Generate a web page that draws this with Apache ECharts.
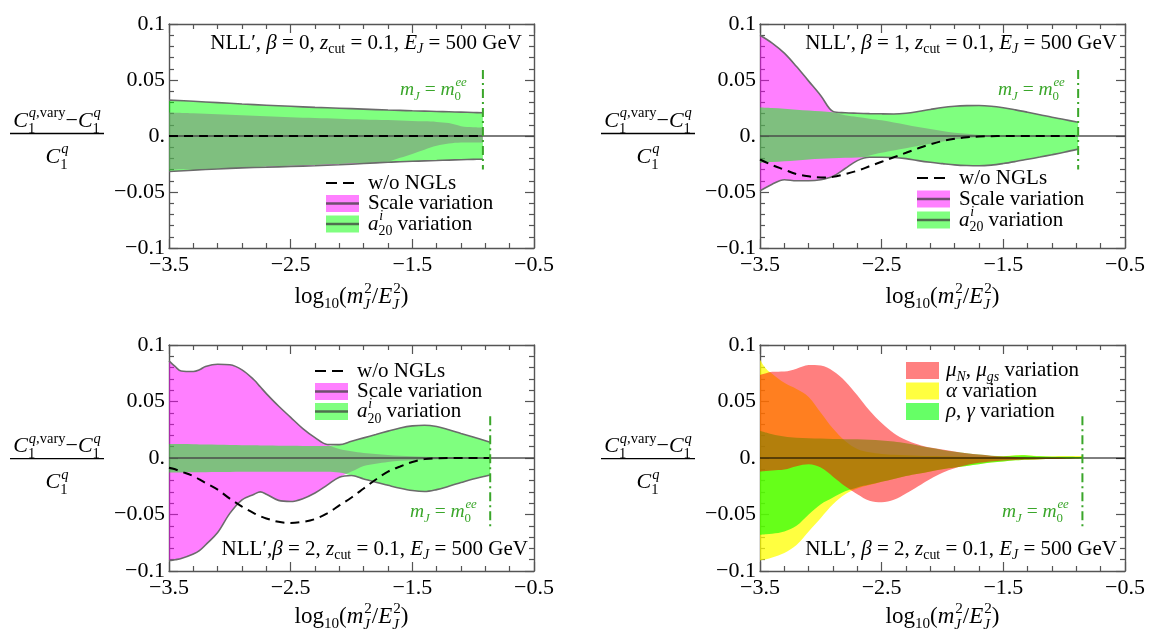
<!DOCTYPE html>
<html><head><meta charset="utf-8">
<script src="https://cdn.jsdelivr.net/npm/echarts@6/dist/echarts.min.js"></script>
<style>html,body{margin:0;padding:0;background:#fff}#c{width:1149px;height:634px}</style>
</head><body><div id="c"></div>
<script>
// ---------------- DATA ----------------
const XMIN = -3.5, XMAX = -0.5;
const XTICK_VALUES = [-3.5, -2.5, -1.5, -0.5];
const XTICK_LABELS = ['−3.5', '−2.5', '−1.5', '−0.5'];
const YTICK_VALUES = [-0.1, -0.05, 0, 0.05, 0.1];
const YTICK_LABELS = ['−0.1', '−0.05', '0.', '0.05', '0.1'];

// panel 1: beta = 0
const X1 = [-3.5,-3.3,-3.1,-2.9,-2.7,-2.5,-2.3,-2.1,-1.9,-1.7,-1.6,-1.5,-1.4,-1.3,-1.2,-1.1,-1.0,-0.92];
const A20_HI_1 = [0.0320,0.0310,0.0298,0.0286,0.0275,0.0265,0.0256,0.0248,0.0240,0.0232,0.0229,0.0225,0.0222,0.0219,0.0216,0.0213,0.0210,0.0207];
const A20_LO_1 = [-0.0317,-0.0305,-0.0294,-0.0284,-0.0275,-0.0266,-0.0258,-0.0250,-0.0242,-0.0234,-0.0230,-0.0226,-0.0222,-0.0219,-0.0215,-0.0212,-0.0209,-0.0207];
const SCALE_HI_1 = [0.0210,0.0203,0.0195,0.0186,0.0177,0.0168,0.0161,0.0155,0.0148,0.0142,0.0138,0.0135,0.0131,0.0126,0.0115,0.0088,0.0079,0.0077];
const SCALE_LO_1 = [-0.0300,-0.0295,-0.0290,-0.0285,-0.0279,-0.0272,-0.0265,-0.0257,-0.0246,-0.0228,-0.0195,-0.0160,-0.0122,-0.0088,-0.0068,-0.0059,-0.0057,-0.0057];
const NONGL_1 = [0,0,0,0,0,0,0,0,0,0,0,0,0,0,0,0,0,0];

// panel 2: beta = 1
const X2 = [-3.5,-3.4,-3.3,-3.2,-3.1,-3.0,-2.9,-2.8,-2.7,-2.6,-2.5,-2.4,-2.3,-2.2,-2.1,-2.0,-1.9,-1.8,-1.7,-1.6,-1.5,-1.4,-1.3,-1.2,-1.1,-1.0,-0.885];
const SCALE_HI_2 = [0.090,0.083,0.074,0.062,0.049,0.036,0.022,0.0185,0.0170,0.0155,0.0140,0.0120,0.0100,0.0080,0.0062,0.0045,0.0030,0.0020,0.0010,0.0005,0,0,0,0,0,0,0];
const SCALE_LO_2 = [-0.049,-0.043,-0.039,-0.040,-0.040,-0.039,-0.036,-0.029,-0.022,-0.0175,-0.015,-0.013,-0.011,-0.009,-0.007,-0.005,-0.003,-0.002,-0.001,-0.0005,0,0,0,0,0,0,0];
const A20_HI_2 = [0.0255,0.0250,0.0243,0.0235,0.0228,0.0220,0.0212,0.0207,0.0203,0.0200,0.0198,0.0197,0.0203,0.0218,0.0237,0.0255,0.0266,0.0271,0.0272,0.0266,0.0252,0.0233,0.0212,0.0190,0.0167,0.0147,0.0122];
const A20_LO_2 = [-0.0240,-0.0233,-0.0226,-0.0218,-0.0210,-0.0203,-0.0198,-0.0195,-0.0192,-0.0190,-0.0190,-0.0192,-0.0202,-0.0220,-0.0235,-0.0247,-0.0258,-0.0264,-0.0266,-0.0260,-0.0246,-0.0228,-0.0208,-0.0188,-0.0167,-0.0145,-0.0117];
const NONGL_2 = [-0.021,-0.026,-0.030,-0.034,-0.036,-0.037,-0.0365,-0.034,-0.031,-0.027,-0.023,-0.019,-0.015,-0.011,-0.0075,-0.0045,-0.0025,-0.0012,-0.0005,-0.0002,0,0,0,0,0,0,0];

// panel 3: beta = 2
const X3 = [-3.5,-3.45,-3.4,-3.3,-3.25,-3.2,-3.1,-3.0,-2.9,-2.8,-2.75,-2.7,-2.6,-2.5,-2.4,-2.3,-2.2,-2.1,-2.0,-1.9,-1.8,-1.7,-1.6,-1.5,-1.4,-1.3,-1.2,-1.1,-1.0,-0.86];
const SCALE_HI_3 = [0.086,0.081,0.077,0.0765,0.078,0.081,0.083,0.0825,0.078,0.069,0.063,0.057,0.046,0.036,0.026,0.018,0.012,0.008,0.006,0.0045,0.0035,0.0027,0.002,0.0015,0.001,0.0008,0.0006,0.0004,0.0002,0];
const SCALE_LO_3 = [-0.091,-0.090,-0.089,-0.085,-0.082,-0.077,-0.066,-0.049,-0.037,-0.032,-0.030,-0.032,-0.0375,-0.0385,-0.036,-0.031,-0.024,-0.017,-0.012,-0.007,-0.005,-0.0035,-0.0025,-0.002,-0.0015,-0.001,-0.0008,-0.0005,-0.0003,0];
const A20_HI_3 = [0.0125,0.0124,0.0123,0.0121,0.0120,0.0119,0.0117,0.0115,0.0113,0.0112,0.0111,0.0110,0.0109,0.0108,0.0107,0.0106,0.0106,0.0118,0.0148,0.0178,0.0208,0.0238,0.0266,0.0284,0.0290,0.0278,0.0250,0.0217,0.0185,0.0140];
const A20_LO_3 = [-0.0130,-0.0129,-0.0128,-0.0127,-0.0126,-0.0125,-0.0124,-0.0123,-0.0122,-0.0121,-0.0121,-0.0121,-0.0121,-0.0121,-0.0121,-0.0121,-0.0121,-0.0128,-0.0155,-0.0185,-0.0215,-0.0242,-0.0268,-0.0288,-0.0297,-0.0280,-0.0250,-0.0217,-0.0185,-0.0150];
const NONGL_3 = [-0.0086,-0.010,-0.012,-0.016,-0.019,-0.022,-0.028,-0.036,-0.043,-0.049,-0.0515,-0.0535,-0.0565,-0.0575,-0.0565,-0.054,-0.049,-0.042,-0.035,-0.027,-0.019,-0.012,-0.0075,-0.0035,-0.001,-0.0002,0,0,0,0];

// panel 4: beta = 2, separate variations
const X4 = [-3.5,-3.45,-3.4,-3.3,-3.2,-3.1,-3.0,-2.9,-2.8,-2.7,-2.6,-2.5,-2.4,-2.3,-2.2,-2.1,-2.0,-1.9,-1.8,-1.7,-1.6,-1.5,-1.4,-1.35,-1.3,-1.2,-1.1,-1.0,-0.85];
const MU_HI = [0.0735,0.075,0.0763,0.0765,0.079,0.0822,0.0818,0.077,0.068,0.0555,0.042,0.031,0.022,0.016,0.012,0.0092,0.0075,0.0058,0.0043,0.003,0.002,0.0013,0.0008,0.0006,0.0005,0.0003,0.0002,0.0001,0];
const MU_LO = [-0.0121,-0.0116,-0.011,-0.0102,-0.0072,-0.0055,-0.0085,-0.0165,-0.025,-0.032,-0.0378,-0.0392,-0.037,-0.0315,-0.025,-0.0185,-0.013,-0.009,-0.0063,-0.0043,-0.003,-0.0022,-0.0017,-0.0015,-0.0013,-0.001,-0.0008,-0.0006,0];
const ALPHA_HI = [0.087,0.079,0.0745,0.0665,0.061,0.054,0.040,0.026,0.015,0.008,0.005,0.0035,0.0028,0.0024,0.002,0.0018,0.0016,0.0014,0.0012,0.001,0.0012,0.0016,0.0024,0.0027,0.0025,0.0018,0.0016,0.0018,0.0018];
const ALPHA_LO = [-0.0905,-0.0895,-0.088,-0.084,-0.077,-0.065,-0.053,-0.041,-0.032,-0.027,-0.024,-0.021,-0.0185,-0.016,-0.014,-0.012,-0.010,-0.0085,-0.007,-0.0055,-0.004,-0.003,-0.002,-0.0017,-0.0015,-0.001,-0.0008,-0.0006,-0.0004];
const RHO_HI = [0.0242,0.0225,0.021,0.019,0.018,0.0175,0.0172,0.0169,0.0167,0.0165,0.0161,0.0155,0.0145,0.013,0.011,0.009,0.0071,0.0055,0.0042,0.003,0.002,0.0016,0.0022,0.0025,0.0023,0.0015,0.0012,0.001,0.0008];
const RHO_LO = [-0.068,-0.0675,-0.067,-0.065,-0.060,-0.050,-0.041,-0.035,-0.0295,-0.026,-0.0235,-0.021,-0.0185,-0.016,-0.014,-0.012,-0.010,-0.0085,-0.007,-0.0055,-0.004,-0.003,-0.002,-0.0017,-0.0015,-0.001,-0.0008,-0.0006,-0.0004];

// m_J = m_0^ee marker per panel
const M0_X = [-0.92, -0.885, -0.86, -0.85];
const M0_YTOP = [0.059, 0.059, 0.037, 0.037];
const M0_YBOT = [-0.030, -0.030, -0.061, -0.061];
const BETAS = ['0', '1', '2', '2'];

// ---------------- STYLE ----------------
const FONT = "'Liberation Serif', 'Times New Roman', Times, 'DejaVu Serif', serif";
const FRAME = '#555';
const EDGE = '#6b6b6b';
const MAG = 'rgba(255,0,255,0.5)';
const GRN = 'rgba(0,255,0,0.5)';
const RED = 'rgba(255,0,0,0.5)';
const YEL = 'rgba(255,255,0,0.75)';
const GRN4 = 'rgba(0,255,0,0.6)';
const MGREEN = '#3aa62a';
const SM = 0.35;
const GRIDS = [
  {left:169, top:24, width:365, height:224},
  {left:760, top:24, width:365, height:224},
  {left:169, top:345, width:365, height:226},
  {left:760, top:345, width:365, height:226}
];

// ---------------- AXES ----------------
const xAxes = [], yAxes = [];
const tickStyle = {color: FRAME, width: 1.2};
GRIDS.forEach((g, i) => {
  xAxes.push({gridIndex:i, type:'value', min:XMIN, max:XMAX, interval:0.5, position:'bottom',
    axisLine:{show:false}, axisTick:{show:false}, splitLine:{show:false},
    axisLabel:{margin:6, fontSize:22, fontFamily:FONT, color:'#000',
      formatter: v => { const k = XTICK_VALUES.findIndex(t => Math.abs(t - v) < 1e-9); return k < 0 ? '' : XTICK_LABELS[k]; }}});
  ['bottom','top'].forEach(pos => {
    xAxes.push({gridIndex:i, type:'value', min:0, max:XMAX - XMIN, interval:1, position:pos,
      axisLine:{show:true, onZero:false, lineStyle:{color:FRAME, width:1.4}},
      axisTick:{show:true, inside:true, length:9, lineStyle:tickStyle},
      minorTick:{show:true, splitNumber:5, length:5, lineStyle:tickStyle},
      axisLabel:{show:false}, splitLine:{show:false}, minorSplitLine:{show:false}});
  });
  ['left','right'].forEach(pos => {
    yAxes.push({gridIndex:i, type:'value', min:-0.1, max:0.1, interval:0.05, position:pos,
      axisLine:{show:true, onZero:false, lineStyle:{color:FRAME, width:1.4}},
      axisTick:{show:true, inside:true, length:9, lineStyle:tickStyle},
      minorTick:{show:true, splitNumber:5, length:5, lineStyle:tickStyle},
      splitLine:{show:false},
      axisLabel:{show: pos === 'left', margin:4, fontSize:22, fontFamily:FONT, color:'#000',
        formatter: v => { const k = YTICK_VALUES.findIndex(t => Math.abs(t - v) < 1e-9); return k < 0 ? '' : YTICK_LABELS[k]; }}});
  });
});

// ---------------- SERIES ----------------
const series = [];
function ax(i){ return {xAxisIndex: 3*i, yAxisIndex: 2*i}; }
function pts(X, Y){ return X.map((x, k) => [x, Y[k]]); }
let bandId = 0;
// band = invisible lower line + stacked (hi - lo) area; y is put in dimension 0 so it is the stacked one
function band(i, X, lo, hi, color){
  const id = 'b' + (bandId++);
  const diff = hi.map((h, k) => h - lo[k]);
  const base = Object.assign({type:'line', stack:id, stackStrategy:'all', symbol:'none', smooth:SM,
    silent:true, z:2, lineStyle:{width:0, opacity:0}, encode:{x:1, y:0}}, ax(i));
  series.push(Object.assign({}, base, {data: X.map((x, k) => [lo[k], x])}));
  series.push(Object.assign({}, base, {data: X.map((x, k) => [diff[k], x]), areaStyle:{color: color, opacity:1}}));
}
function line(i, X, Y, style, z, smooth){
  series.push(Object.assign({type:'line', symbol:'none', smooth: smooth === undefined ? SM : smooth,
    silent:true, z:z, data: pts(X, Y), lineStyle: style}, ax(i)));
}
const PANELS = [
  {X:X1, sHi:SCALE_HI_1, sLo:SCALE_LO_1, aHi:A20_HI_1, aLo:A20_LO_1, ngl:NONGL_1},
  {X:X2, sHi:SCALE_HI_2, sLo:SCALE_LO_2, aHi:A20_HI_2, aLo:A20_LO_2, ngl:NONGL_2},
  {X:X3, sHi:SCALE_HI_3, sLo:SCALE_LO_3, aHi:A20_HI_3, aLo:A20_LO_3, ngl:NONGL_3}
];
PANELS.forEach((p, i) => {
  band(i, p.X, p.sLo, p.sHi, MAG);
  band(i, p.X, p.aLo, p.aHi, GRN);
  line(i, p.X, p.sHi.map((v, k) => Math.max(v, p.aHi[k])), {color:EDGE, width:1.6}, 3);
  line(i, p.X, p.sLo.map((v, k) => Math.min(v, p.aLo[k])), {color:EDGE, width:1.6}, 3);
  line(i, [XMIN, XMAX], [0, 0], {color:'rgba(70,70,70,0.7)', width:2}, 4, false);
  line(i, p.X, p.ngl, {color:'#000', width:2, type:[9,6]}, 5);
});
band(3, X4, ALPHA_LO, ALPHA_HI, YEL);
band(3, X4, RHO_LO, RHO_HI, GRN4);
band(3, X4, MU_LO, MU_HI, RED);
line(3, [XMIN, XMAX], [0, 0], {color:'#000', width:1}, 4, false);
for (let i = 0; i < 4; i++) {
  line(i, [M0_X[i], M0_X[i]], [M0_YTOP[i], M0_YBOT[i]], {color:MGREEN, width:2, type:[9,4,2,4]}, 6, false);
}

// ---------------- MATH TEXT ----------------
const mctx = document.createElement('canvas').getContext('2d');
function fontOf(size, it){ return (it ? 'italic ' : '') + size + 'px ' + FONT; }
function meas(t, size, it){ mctx.font = fontOf(size, it); return mctx.measureText(t).width; }
function layout(tokens, size){
  const out = []; let x = 0; const ss = size * 0.66;
  tokens.forEach(tk => {
    (tk.b || []).forEach(r => { out.push({t:r[0], it:r[1], x:x, dy:0, size:size}); x += meas(r[0], size, r[1]); });
    let w = 0; const stacked = tk.sub && tk.sup;
    const gap = tk.b && tk.b.length && tk.b[tk.b.length - 1][1] ? 0.04 * size : 0;
    if (tk.sup) { let xx = x + gap; tk.sup.forEach(r => { out.push({t:r[0], it:r[1], x:xx, dy:-(stacked ? 0.46 : 0.4) * size, size:ss}); xx += meas(r[0], ss, r[1]); }); w = Math.max(w, xx - x); }
    if (tk.sub) { let xx = x; tk.sub.forEach(r => { out.push({t:r[0], it:r[1], x:xx, dy:(stacked ? 0.25 : 0.22) * size, size:ss}); xx += meas(r[0], ss, r[1]); }); w = Math.max(w, xx - x); }
    x += w;
  });
  return {items: out, width: x};
}
const graphics = [];
function math(tokens, size, x0, yMid, color, align){
  const L = layout(tokens, size);
  const sx = align === 'center' ? x0 - L.width / 2 : align === 'right' ? x0 - L.width : x0;
  const baseline = yMid + 0.3 * size;
  L.items.forEach(it => {
    graphics.push({type:'text', x: sx + it.x, y: baseline + it.dy - 0.3 * it.size, silent:true, z:100,
      style:{text: it.t, font: fontOf(it.size, it.it), fill: color, align:'left', verticalAlign:'middle',
        textAlign:'left', textVerticalAlign:'middle'}});
  });
  return L.width;
}
const C1q = {b:[['C',1]], sub:[['1',0]], sup:[['q',1]]};
const NUM = [{b:[['C',1]], sub:[['1',0]], sup:[['q',1],[',vary',0]]}, {b:[['−',0]]}, C1q];
const XTITLE = [{b:[['log',0]], sub:[['10',0]]}, {b:[['(',0],['m',1]], sub:[['J',1]], sup:[['2',0]]},
  {b:[['/',0],['E',1]], sub:[['J',1]], sup:[['2',0]]}, {b:[[')',0]]}];
const M0LABEL = [{b:[['m',1]], sub:[['J',1]]}, {b:[[' = ',0]]}, {b:[['m',1]], sub:[['0',0]], sup:[['ee',1]]}];
function annot(beta, tight){
  return [{b:[['NLL′' + (tight ? ',' : ', '),0],['β',1],[' = ' + beta + ', ',0],['z',1]], sub:[['cut',0]]},
    {b:[[' = 0.1, ',0],['E',1]], sub:[['J',1]]}, {b:[[' = 500 GeV',0]]}];
}
const ANN_RIGHT = [12, 8, 6, 8];
const ANN_Y = [43, 43, 549, 549];
const M0_LABEL_POS = [[400, 90], [998, 90], [410, 512], [1002, 512]];
const BAR_Y = [133.5, 133.5, 458.7, 458.7];
const XTITLE_DY = [49, 49, 46, 46];

GRIDS.forEach((g, i) => {
  const cx = g.left - 112;
  math(NUM, 22, cx, BAR_Y[i] - 12, '#000', 'center');
  graphics.push({type:'line', silent:true, z:100, shape:{x1:cx - 47, y1:BAR_Y[i], x2:cx + 47, y2:BAR_Y[i]}, style:{stroke:'#000', lineWidth:1.3}});
  math([C1q], 22, cx, BAR_Y[i] + 24, '#000', 'center');
  math(XTITLE, 23, g.left + g.width / 2, g.top + g.height + XTITLE_DY[i], '#000', 'center');
  math(annot(BETAS[i], i === 2), 21, g.left + g.width - ANN_RIGHT[i], ANN_Y[i], '#000', 'right');
  math(M0LABEL, 19.5, M0_LABEL_POS[i][0], M0_LABEL_POS[i][1], MGREEN, 'left');
});

// legends
function patch(x, cy, fill){ graphics.push({type:'rect', silent:true, z:100, shape:{x:x, y:cy - 8.5, width:33, height:17}, style:{fill:fill}}); }
function lseg(x1, x2, y, stroke, w, dash){ graphics.push({type:'line', silent:true, z:101, shape:{x1:x1, y1:y, x2:x2, y2:y}, style:{stroke:stroke, lineWidth:w, lineDash:dash || null}}); }
const LEG_ROWS = [[183, 203.5, 224], [178, 199, 220], [371, 391.5, 411.5], [370.5, 391, 411.5]];
const LEG_DX = [157, 157, 146, 146];
const LEGEND_TEXT_A = [[{b:[['w/o NGLs',0]]}], [{b:[['Scale variation',0]]}],
  [{b:[['a',1]], sub:[['20',0]], sup:[['i',1]]}, {b:[[' variation',0]]}]];
const LEGEND_TEXT_B = [[{b:[['μ',1]], sub:[['N',1]]}, {b:[[', ',0],['μ',1]], sub:[['gs',1]]}, {b:[[' variation',0]]}],
  [{b:[['α',1],[' variation',0]]}], [{b:[['ρ',1],[', ',0],['γ',1],[' variation',0]]}]];
for (let i = 0; i < 3; i++) {
  const lx = GRIDS[i].left + LEG_DX[i], R = LEG_ROWS[i];
  lseg(lx, lx + 28, R[0], '#000', 2.2, [11, 6]);
  patch(lx, R[1], 'rgb(255,128,255)'); lseg(lx, lx + 33, R[1], '#6e4f6e', 2.6);
  patch(lx, R[2], 'rgb(128,255,128)'); lseg(lx, lx + 33, R[2], '#4f6f4f', 2.6);
  LEGEND_TEXT_A.forEach((t, k) => math(t, 21, lx + 42, R[k], '#000', 'left'));
}
{
  const lx = GRIDS[3].left + LEG_DX[3], R = LEG_ROWS[3];
  patch(lx, R[0], 'rgb(255,128,128)');
  patch(lx, R[1], 'rgb(255,255,64)');
  patch(lx, R[2], 'rgb(102,255,102)');
  LEGEND_TEXT_B.forEach((t, k) => math(t, 21, lx + 40, R[k], '#000', 'left'));
}

const chart = echarts.init(document.getElementById('c'), null, {renderer:'canvas'});
chart.setOption({
  animation:false, backgroundColor:'#fff',
  grid: GRIDS.map(g => Object.assign({containLabel:false}, g)),
  xAxis: xAxes, yAxis: yAxes, series: series,
  graphic: {elements: graphics}
});
</script></body></html>
